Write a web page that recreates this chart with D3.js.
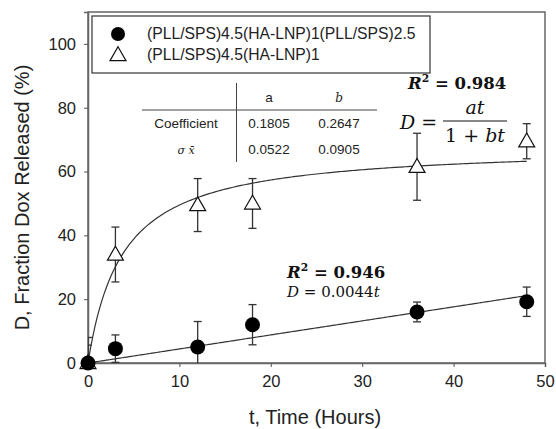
<!DOCTYPE html>
<html><head><meta charset="utf-8">
<script src="https://cdn.jsdelivr.net/npm/d3@7"></script>
<style>body{margin:0;background:#fff}svg{display:block}</style>
</head><body><svg id="c" width="556" height="429"></svg>
<script>
const timeH = [0, 3, 12, 18, 36, 48];
const seriesNames = ["(PLL/SPS)4.5(HA-LNP)1(PLL/SPS)2.5", "(PLL/SPS)4.5(HA-LNP)1"];
const coatedVals = [0, 4.5, 5, 12, 16, 19.2];
const coatedErr = [5.6, 4.3, 8, 6.3, 3.1, 4.6];
const uncoatedVals = [0, 34, 49.5, 50, 61.5, 69.5];
const uncoatedErr = [8, 8.6, 8.3, 7.8, 10.5, 5.5];
const xTicks = [0, 10, 20, 30, 40, 50];
const yTicks = [0, 20, 40, 60, 80, 100];
const linSlope = 0.0044;      // D = 0.0044t (fraction)
const hypA = 0.1805, hypB = 0.2647; // D = at/(1+bt)
const tableHeader = ["a", "b"];
const tableRows = [["Coefficient", "0.1805", "0.2647"], ["σ x̄", "0.0522", "0.0905"]];

const svg = d3.select("#c");
const m = {l: 88, r: 11, t: 12, b: 66};
const W = 556 - m.l - m.r, H = 429 - m.t - m.b;
const x = d3.scaleLinear().domain([0, 50]).range([m.l, m.l + W]);
const y = d3.scaleLinear().domain([0, 110]).range([m.t + H, m.t]);
const font = "Liberation Sans, Arial, sans-serif";
const serif = "DejaVu Serif, Liberation Serif, serif";

svg.append("clipPath").attr("id", "clip").append("rect")
  .attr("x", m.l).attr("y", m.t).attr("width", W).attr("height", H);

// frame
svg.append("rect").attr("x", m.l).attr("y", m.t).attr("width", W).attr("height", H)
  .attr("fill", "none").attr("stroke", "#666").attr("stroke-width", 1.5);

const xa = svg.append("g").attr("transform", `translate(0,${m.t + H})`)
  .call(d3.axisBottom(x).tickValues(xTicks).tickSize(4).tickPadding(8).tickFormat(d3.format("d")));
const ya = svg.append("g").attr("transform", `translate(${m.l},0)`)
  .call(d3.axisLeft(y).tickValues(yTicks).tickSize(4).tickPadding(8).tickFormat(d3.format("d")));
[xa, ya].forEach(a => {
  a.select(".domain").attr("stroke", "#666").attr("stroke-width", 1.5);
  a.selectAll("line").attr("stroke", "#555");
  a.selectAll("text").attr("font-family", font).attr("font-size", 16.5).attr("fill", "#222");
});

svg.append("text").attr("x", 315).attr("y", 424).attr("text-anchor", "middle")
  .attr("font-family", font).attr("font-size", 20).attr("fill", "#222").text("t, Time (Hours)");
svg.append("text").attr("transform", `translate(29,${m.t + H / 2 + 10}) rotate(-90)`)
  .attr("text-anchor", "middle").attr("font-family", font).attr("font-size", 20).attr("fill", "#222")
  .text("D, Fraction Dox Released (%)");

const plot = svg.append("g").attr("clip-path", "url(#clip)");

// fit lines
const tGrid = d3.range(0, 48.01, 0.25);
const lineGen = d3.line().x(d => x(d[0])).y(d => y(d[1]));
plot.append("path").datum(tGrid.map(t => [t, 100 * linSlope * t]))
  .attr("d", lineGen).attr("fill", "none").attr("stroke", "#333").attr("stroke-width", 1.2);
plot.append("path").datum(tGrid.map(t => [t, 100 * hypA * t / (1 + hypB * t)]))
  .attr("d", lineGen).attr("fill", "none").attr("stroke", "#333").attr("stroke-width", 1.2);

// error bars
function errBars(vals, errs) {
  const g = plot.append("g").attr("stroke", "#333").attr("stroke-width", 1.3);
  timeH.forEach((t, i) => {
    const cx = x(t), y1 = y(vals[i] + errs[i]), y0 = y(vals[i] - errs[i]);
    g.append("line").attr("x1", cx).attr("x2", cx).attr("y1", y0).attr("y2", y1);
    g.append("line").attr("x1", cx - 4).attr("x2", cx + 4).attr("y1", y1).attr("y2", y1);
    g.append("line").attr("x1", cx - 4).attr("x2", cx + 4).attr("y1", y0).attr("y2", y0);
  });
}
errBars(uncoatedVals, uncoatedErr);
errBars(coatedVals, coatedErr);

const tri = d3.symbol().type(d3.symbolTriangle).size(110);
svg.append("g").selectAll("path").data(timeH).join("path")
  .attr("d", tri).attr("transform", (t, i) => `translate(${x(t)},${y(uncoatedVals[i]) + 1})`)
  .attr("fill", "#fff").attr("stroke", "#111").attr("stroke-width", 1.2);
svg.append("g").selectAll("circle").data(timeH).join("circle")
  .attr("cx", t => x(t)).attr("cy", (t, i) => y(coatedVals[i])).attr("r", 7.5).attr("fill", "#000");

// legend
const lg = svg.append("g");
lg.append("rect").attr("x", 92).attr("y", 16).attr("width", 338).attr("height", 57)
  .attr("fill", "#fff").attr("stroke", "#333").attr("stroke-width", 1.2);
lg.append("circle").attr("cx", 118).attr("cy", 34).attr("r", 7).attr("fill", "#000");
lg.append("path").attr("d", tri).attr("transform", "translate(118,56)")
  .attr("fill", "#fff").attr("stroke", "#111").attr("stroke-width", 1.2);
seriesNames.forEach((s, i) => lg.append("text").attr("x", 147).attr("y", 39 + i * 21)
  .attr("font-family", font).attr("font-size", 15.7).attr("fill", "#222").text(s));

// table
const tb = svg.append("g").attr("font-family", font).attr("font-size", 13.5).attr("fill", "#222");
tb.append("line").attr("x1", 236.5).attr("x2", 236.5).attr("y1", 83).attr("y2", 162).attr("stroke", "#444");
tb.append("line").attr("x1", 142).attr("x2", 377).attr("y1", 110).attr("y2", 110).attr("stroke", "#444");
const colX = [186, 269, 339];
tb.append("text").attr("x", colX[1]).attr("y", 102).attr("text-anchor", "middle").text(tableHeader[0]);
tb.append("text").attr("x", colX[2]).attr("y", 102).attr("text-anchor", "middle")
  .attr("font-family", serif).attr("font-style", "italic").attr("font-size", 12).text(tableHeader[1]);
tableRows.forEach((r, i) => r.forEach((c, j) => {
  const t = tb.append("text").attr("x", colX[j]).attr("y", 128 + i * 26).attr("text-anchor", "middle").text(c);
  if (i === 1 && j === 0) t.attr("font-family", serif).attr("font-style", "italic").attr("font-size", 11);
}));

// equations
const eq = svg.append("g").attr("font-family", serif).attr("fill", "#111");
function r2(xp, yp, val, fs) {
  const t = eq.append("text").attr("x", xp).attr("y", yp).attr("font-size", fs).attr("font-weight", "bold");
  t.append("tspan").attr("font-style", "italic").text("R");
  t.append("tspan").attr("dy", -7).attr("font-size", fs * 0.65).text("2");
  t.append("tspan").attr("dy", 7).text(" = " + val);
}
r2(408, 89, "0.984", 16.5);
r2(287, 278, "0.946", 16.5);
const d1 = eq.append("text").attr("x", 287).attr("y", 297).attr("font-size", 15);
d1.append("tspan").attr("font-style", "italic").text("D");
d1.append("tspan").text(" = 0.0044");
d1.append("tspan").attr("font-style", "italic").text("t");
const d2 = eq.append("text").attr("x", 400).attr("y", 129).attr("font-size", 19);
d2.append("tspan").attr("font-style", "italic").text("D");
d2.append("tspan").text(" =");
eq.append("text").attr("x", 475).attr("y", 114).attr("text-anchor", "middle").attr("font-size", 19)
  .attr("font-style", "italic").text("at");
eq.append("line").attr("x1", 443).attr("x2", 507).attr("y1", 121).attr("y2", 121).attr("stroke", "#111").attr("stroke-width", 1.2);
const den = eq.append("text").attr("x", 475).attr("y", 142).attr("text-anchor", "middle").attr("font-size", 19);
den.append("tspan").text("1 + ");
den.append("tspan").attr("font-style", "italic").text("bt");
</script></body></html>
